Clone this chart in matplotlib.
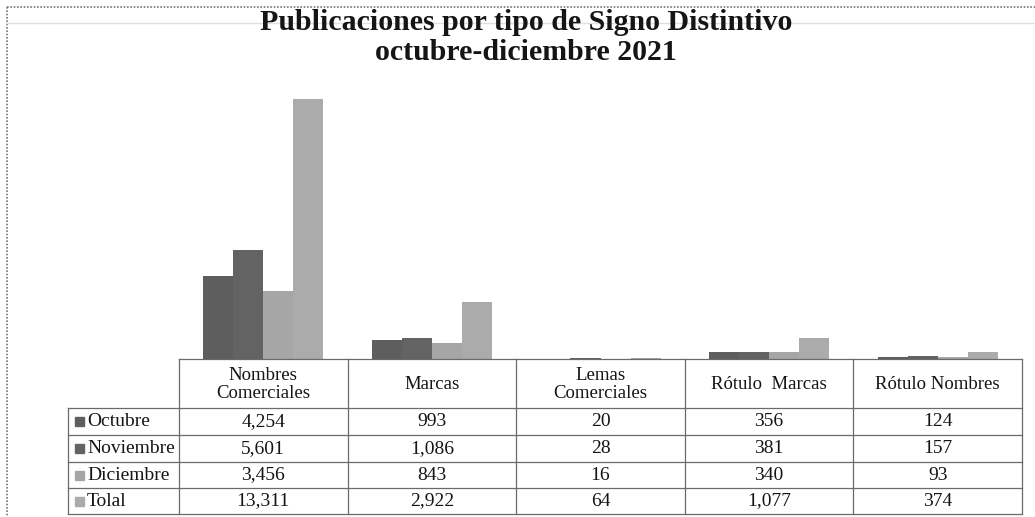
import numpy as np
import matplotlib
matplotlib.use("Agg")
import matplotlib.pyplot as plt
from matplotlib.patches import Rectangle

# data
categories = ["Nombres\nComerciales", "Marcas", "Lemas\nComerciales", "Rótulo  Marcas", "Rótulo Nombres"]
series_names = ["Octubre", "Noviembre", "Diciembre", "Tolal"]
octubre = [4254, 993, 20, 356, 124]
noviembre = [5601, 1086, 28, 381, 157]
diciembre = [3456, 843, 16, 340, 93]
total = [13311, 2922, 64, 1077, 374]
colors = ["#5e5e5e", "#636363", "#a6a6a6", "#ababab"]

W, H = 1035, 517
plt.rcParams["font.family"] = ["Liberation Serif", "DejaVu Serif"]
fig = plt.figure(figsize=(W / 100, H / 100), dpi=100)

# layout in pixels
left, right = 179, 1022
base_y, top_y = 359, 85.5
colw = (right - left) / len(categories)

# bar chart
ax = fig.add_axes([left / W, 1 - base_y / H, (right - left) / W, (base_y - top_y) / H])
x = np.arange(len(categories))
bw = 0.178
all_series = [octubre, noviembre, diciembre, total]
for i, (vals, c) in enumerate(zip(all_series, colors)):
    ax.bar(x + (i - 1.5) * bw, vals, width=bw, color=c, edgecolor="none")
ax.set_xlim(-0.5, len(categories) - 0.5)
ax.set_ylim(0, 14000)
ax.axis("off")

# overlays in pixel coords for title, border and data table
ov = fig.add_axes([0, 0, 1, 1], zorder=-1)
ov.set_xlim(0, W)
ov.set_ylim(H, 0)
ov.axis("off")
ov2 = fig.add_axes([0, 0, 1, 1], zorder=5)
ov2.set_xlim(0, W)
ov2.set_ylim(H, 0)
ov2.axis("off")
ov2.patch.set_alpha(0)

# chart border
ov.plot([7, W], [7, 7], color="#777777", lw=1.2, ls=(0, (1, 1)))
ov.plot([7, 7], [7, H], color="#777777", lw=1.2, ls=(0, (1, 1)))
ov.plot([7, W], [23, 23], color="#e0e0e0", lw=1)

tc = "#151515"
ov2.text(526, 23, "Publicaciones por tipo de Signo Distintivo", ha="center", va="center",
         fontsize=21.5, fontweight="bold", color=tc)
ov2.text(526, 53, "octubre-diciembre 2021", ha="center", va="center",
         fontsize=21.5, fontweight="bold", color=tc)

# table
lc = "#6a6a6a"
rows_y = [408, 435, 462, 488, 514]
label_left = 68
ov2.plot([left, right], [base_y, base_y], color=lc, lw=0.9)
for y in rows_y:
    ov2.plot([label_left, right], [y, y], color=lc, lw=0.9)
ov2.plot([label_left, label_left], [rows_y[0], rows_y[-1]], color=lc, lw=0.9)
for j in range(len(categories) + 1):
    xx = left + j * colw
    ov2.plot([xx, xx], [base_y, rows_y[-1]], color=lc, lw=0.9)

fs = 14
for j, cat in enumerate(categories):
    cx = left + (j + 0.5) * colw
    ov2.text(cx, (base_y + rows_y[0]) / 2 + 1, cat, ha="center", va="center",
             fontsize=fs - 0.5, linespacing=1.15, color=tc)

for i, (name, vals, c) in enumerate(zip(series_names, all_series, colors)):
    cy = (rows_y[i] + rows_y[i + 1]) / 2
    ov2.add_patch(Rectangle((75, cy - 4.5), 9, 9, color=c))
    ov2.text(87, cy, name, ha="left", va="center", fontsize=fs, color=tc)
    for j, v in enumerate(vals):
        cx = left + (j + 0.5) * colw
        ov2.text(cx, cy, f"{v:,}", ha="center", va="center", fontsize=fs, color=tc)

fig.savefig("out.png", dpi=100, facecolor="white")
